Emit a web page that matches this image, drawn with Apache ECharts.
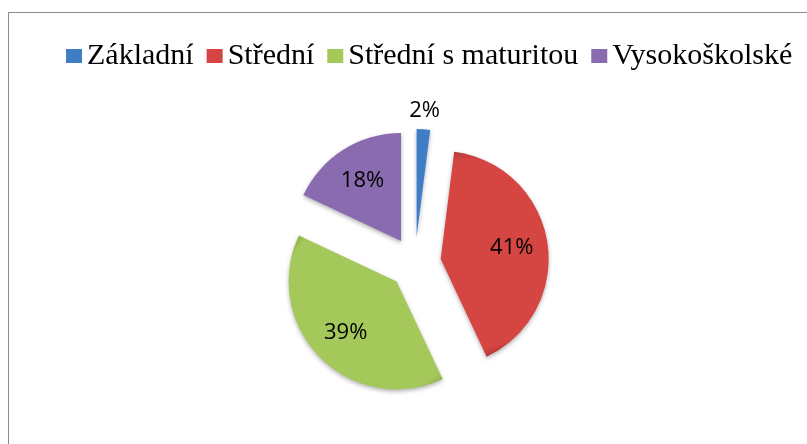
<!DOCTYPE html>
<html>
<head>
<meta charset="utf-8">
<script src="https://cdn.jsdelivr.net/npm/echarts@6/dist/echarts.min.js"></script>
<style>
  html, body { margin: 0; padding: 0; background: #fff; }
  #main { width: 807px; height: 444px; position: relative; overflow: hidden; }
  #frame { position: absolute; left: 8px; top: 12px; width: 900px; height: 600px;
           border-left: 1.5px solid #8c8c8c; border-top: 1.5px solid #8c8c8c; pointer-events: none; }
</style>
</head>
<body>
<div id="main"></div>
<script>
// vzdělání respondentů (%)
var categories = ['Základní', 'Střední', 'Střední s maturitou', 'Vysokoškolské'];
var values = [2, 41, 39, 18];

// light / dark tone of each slice (office 2007 bevel look)
var tones = [
  ['#3f7dc6', '#2a5a98'],
  ['#d54542', '#a4302d'],
  ['#a5c85b', '#7f9c3a'],
  ['#8a6bb0', '#634889']
];

var cx = 415, cy = 263, R = 108, explode = 26;

var total = values.reduce(function (a, b) { return a + b; }, 0);
var mids = [];
var acc = 0;
for (var i = 0; i < values.length; i++) {
  mids.push((acc + values[i] / 2) / total * Math.PI * 2);
  acc += values[i];
}

// gradient centred on the exploded tip of each slice, darker rim at the arc
function bevel(i) {
  var t = tones[i];
  var x = cx + explode * Math.sin(mids[i]);
  var y = cy - explode * Math.cos(mids[i]);
  return new echarts.graphic.RadialGradient(x, y, R, [
    { offset: 0, color: t[0] },
    { offset: 0.88, color: t[0] },
    { offset: 1, color: t[1] }
  ], true);
}

// transparent copy of the pie, used only to place the % labels
function labelPie(outer, showIdx) {
  return {
    type: 'pie',
    silent: true,
    center: [cx, cy],
    radius: [0, outer],
    startAngle: 90,
    selectedMode: 'multiple',
    selectedOffset: explode,
    avoidLabelOverlap: false,
    label: {
      show: true,
      position: 'inside',
      formatter: '{d}%',
      fontFamily: 'Open Sans',
      fontSize: 22,
      color: '#000'
    },
    labelLine: { show: false },
    itemStyle: { color: 'rgba(0,0,0,0)', borderWidth: 0 },
    data: categories.map(function (name, i) {
      return {
        name: name,
        value: values[i],
        selected: true,
        label: { show: showIdx.indexOf(i) >= 0 }
      };
    })
  };
}

var myChart = echarts.init(document.getElementById('main'));
var frame = document.createElement('div');
frame.id = 'frame';
document.getElementById('main').appendChild(frame);

var option = {
  animation: false,
  legend: {
    data: categories.map(function (name, i) {
      return { name: name, itemStyle: { color: tones[i][0] } };
    }),
    left: 61,
    top: 36,
    icon: 'rect',
    itemWidth: 16,
    itemHeight: 14,
    itemGap: 13,
    selectedMode: false,
    textStyle: {
      fontFamily: 'Liberation Serif',
      fontSize: 30,
      color: '#000'
    }
  },
  series: [{
    name: 'vzdělání',
    type: 'pie',
    center: [cx, cy],
    radius: [0, R],
    startAngle: 90,
    selectedMode: 'multiple',
    selectedOffset: explode,
    label: { show: false },
    labelLine: { show: false },
    itemStyle: {
      borderWidth: 0,
      shadowBlur: 4,
      shadowColor: 'rgba(0,0,0,0.3)',
      shadowOffsetY: 2
    },
    emphasis: { scale: false },
    data: categories.map(function (name, i) {
      return {
        name: name,
        value: values[i],
        selected: true,
        itemStyle: { color: bevel(i) }
      };
    })
  },
  labelPie(2 * 69, [1, 2, 3]),
  labelPie(2 * 124, [0])
  ]
};

myChart.setOption(option);
</script>
</body>
</html>
